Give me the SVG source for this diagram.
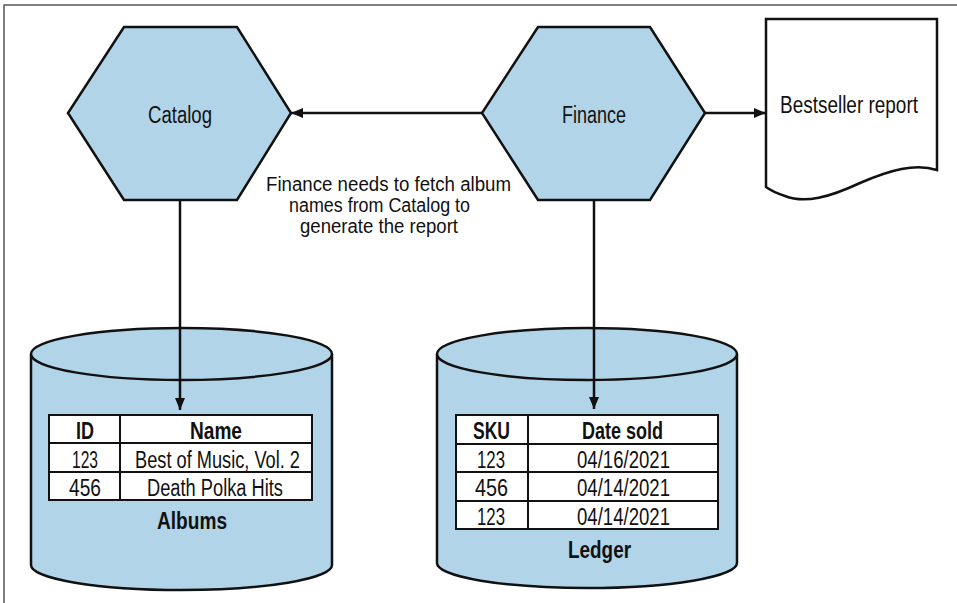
<svg xmlns="http://www.w3.org/2000/svg" width="957" height="603" viewBox="0 0 957 603">
<style>
text{font-family:"Liberation Sans",Arial,sans-serif;font-size:23px;fill:#111;text-anchor:middle}
.b{font-weight:bold}
.note{font-size:20px}
.hex{fill:#b2d4e9;stroke:#111;stroke-width:2.5;stroke-linejoin:miter}
.cyl{fill:#b2d4e9;stroke:#111;stroke-width:2.5}
.tbl{fill:#fff;stroke:#111;stroke-width:2}
.ln{stroke:#111;stroke-width:2}
.con{stroke:#111;stroke-width:2.5;fill:none}
</style>
<defs>
<marker id="ah" viewBox="0 0 12 10" refX="12" refY="5" markerWidth="12" markerHeight="10" markerUnits="userSpaceOnUse" orient="auto">
<path d="M0,0 L12,5 L0,10 Z" fill="#111"/>
</marker>
</defs>
<rect width="957" height="603" fill="#fff"/>
<path d="M4,603 L4,5 L957,5" fill="none" stroke="#555" stroke-width="1.5"/>

<g id="catalog">
<polygon class="hex" points="124,27 237,27 291,113 237,200 124,200 68,113"/>
<text x="180" y="123" textLength="64" lengthAdjust="spacingAndGlyphs">Catalog</text>
</g>

<g id="finance">
<polygon class="hex" points="538,27 650,27 705,113 650,200 538,200 482,113"/>
<text x="594" y="123" textLength="64" lengthAdjust="spacingAndGlyphs">Finance</text>
</g>

<g id="report">
<path d="M766,19 L937,19 L937,170 C915,163 890,170 860,183 C830,197 805,204 785,196 C776,193 770,190 766,187 Z" fill="#fff" stroke="#111" stroke-width="2.5"/>
<text x="849" y="113" textLength="138" lengthAdjust="spacingAndGlyphs">Bestseller report</text>
</g>

<g id="albums">
<path class="cyl" d="M31,354 L31,565 A150.5,25 0 0 0 332,565 L332,354"/>
<ellipse class="cyl" cx="181.5" cy="354" rx="150.5" ry="26"/>
<rect class="tbl" x="49" y="415" width="263" height="85"/>
<line class="ln" x1="49" y1="443" x2="312" y2="443"/>
<line class="ln" x1="49" y1="472" x2="312" y2="472"/>
<line class="ln" x1="120" y1="415" x2="120" y2="500"/>
<text class="b" x="85" y="439" textLength="18" lengthAdjust="spacingAndGlyphs">ID</text>
<text class="b" x="216" y="439" textLength="52" lengthAdjust="spacingAndGlyphs">Name</text>
<text x="85" y="468" textLength="26" lengthAdjust="spacingAndGlyphs">123</text>
<text x="217.5" y="468" textLength="165" lengthAdjust="spacingAndGlyphs">Best of Music, Vol. 2</text>
<text x="85" y="496" textLength="32" lengthAdjust="spacingAndGlyphs">456</text>
<text x="215" y="496" textLength="136" lengthAdjust="spacingAndGlyphs">Death Polka Hits</text>
<text class="b" x="192" y="529" textLength="70" lengthAdjust="spacingAndGlyphs">Albums</text>
</g>

<g id="ledger">
<path class="cyl" d="M437,354 L437,563 A150,25 0 0 0 737,563 L737,354"/>
<ellipse class="cyl" cx="587" cy="354" rx="150" ry="26"/>
<rect class="tbl" x="456" y="415" width="262" height="114"/>
<line class="ln" x1="456" y1="444" x2="718" y2="444"/>
<line class="ln" x1="456" y1="472" x2="718" y2="472"/>
<line class="ln" x1="456" y1="501" x2="718" y2="501"/>
<line class="ln" x1="528" y1="415" x2="528" y2="529"/>
<text class="b" x="491.5" y="439" textLength="37" lengthAdjust="spacingAndGlyphs">SKU</text>
<text class="b" x="622.5" y="439" textLength="81" lengthAdjust="spacingAndGlyphs">Date sold</text>
<text x="491" y="468" textLength="28" lengthAdjust="spacingAndGlyphs">123</text>
<text x="623.5" y="468" textLength="93" lengthAdjust="spacingAndGlyphs">04/16/2021</text>
<text x="491.5" y="496" textLength="33" lengthAdjust="spacingAndGlyphs">456</text>
<text x="623.5" y="496" textLength="93" lengthAdjust="spacingAndGlyphs">04/14/2021</text>
<text x="491" y="525" textLength="28" lengthAdjust="spacingAndGlyphs">123</text>
<text x="623.5" y="525" textLength="93" lengthAdjust="spacingAndGlyphs">04/14/2021</text>
<text class="b" x="599.5" y="558" textLength="63" lengthAdjust="spacingAndGlyphs">Ledger</text>
</g>

<g id="connectors">
<line class="con" x1="482" y1="113" x2="291" y2="113" marker-end="url(#ah)"/>
<line class="con" x1="705" y1="113" x2="766" y2="113" marker-end="url(#ah)"/>
<line class="con" x1="180" y1="200" x2="180" y2="410" marker-end="url(#ah)"/>
<line class="con" x1="594" y1="200" x2="594" y2="409" marker-end="url(#ah)"/>
</g>

<g id="note">
<text class="note" x="388.5" y="191" textLength="245" lengthAdjust="spacingAndGlyphs">Finance needs to fetch album</text>
<text class="note" x="379.5" y="212" textLength="181" lengthAdjust="spacingAndGlyphs">names from Catalog to</text>
<text class="note" x="379" y="233" textLength="158" lengthAdjust="spacingAndGlyphs">generate the report</text>
</g>
</svg>
